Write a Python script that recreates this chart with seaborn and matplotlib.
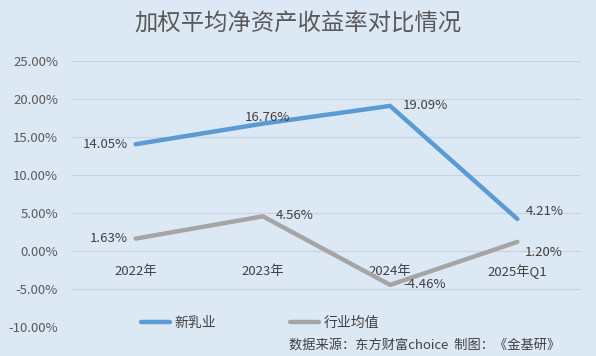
import numpy as np
import pandas as pd
import matplotlib.pyplot as plt
import seaborn as sns

# 数据
periods = ["2022年", "2023年", "2024年", "2025年Q1"]
xinruye = [14.05, 16.76, 19.09, 4.21]
industry_avg = [1.63, 4.56, -4.46, 1.20]
yticks = [-10, -5, 0, 5, 10, 15, 20, 25]

df = pd.DataFrame({
    "period": periods * 2,
    "roe": xinruye + industry_avg,
    "series": ["新乳业"] * 4 + ["行业均值"] * 4,
})

sns.set_theme(style="white")
plt.rcParams['font.family'] = ['Noto Sans CJK SC', 'DejaVu Sans']

bg = "#dde8f5"
fig = plt.figure(figsize=(5.96, 3.56), dpi=100, facecolor=bg)
ax = fig.add_axes([72 / 596, 1 - 327 / 356, 509 / 596, 266 / 356])
ax.set_facecolor(bg)

sns.lineplot(data=df, x="period", y="roe", hue="series", sort=False,
             palette={"新乳业": "#5b9bd5", "行业均值": "#a5a5a5"},
             linewidth=3.2, ax=ax, legend=False)

ax.set_ylim(-10, 25)
ax.set_xlim(-0.5, 3.5)
ax.set_yticks(yticks)
ax.set_yticklabels([f"{v:.2f}%" for v in yticks], fontsize=9.5, color="#595959")
ax.yaxis.grid(True, color="#c9d3e0", linewidth=0.8)
ax.set_axisbelow(True)
for s in ax.spines.values():
    s.set_visible(False)
ax.spines['bottom'].set_position(('data', 0))
ax.tick_params(axis='x', length=0, labelsize=9.5, labelcolor="#404040", pad=10)
ax.tick_params(axis='y', length=0, pad=10)
ax.set_xlabel("")
ax.set_ylabel("")

# 数据标签
offsets_a = [(-8, 0, 'right'), (5, 6, 'center'), (13, 0, 'left'), (8, 8, 'left')]
offsets_b = [(-8, 0, 'right'), (13, 1, 'left'), (13, 0, 'left'), (7, -11, 'left')]
for i, (v, (dx, dy, ha)) in enumerate(zip(xinruye, offsets_a)):
    ax.annotate(f"{v:.2f}%", (i, v), xytext=(dx, dy), textcoords='offset pixels',
                ha=ha, va='center', fontsize=9.5, color="#404040")
for i, (v, (dx, dy, ha)) in enumerate(zip(industry_avg, offsets_b)):
    ax.annotate(f"{v:.2f}%", (i, v), xytext=(dx, dy), textcoords='offset pixels',
                ha=ha, va='center', fontsize=9.5, color="#404040")

# 图例
h1, = ax.plot([], [], color="#5b9bd5", linewidth=3.2)
h2, = ax.plot([], [], color="#a5a5a5", linewidth=3.2)
fig.legend([h1, h2], ["新乳业", "行业均值"], loc='center', ncol=2,
           bbox_to_anchor=(260 / 596, 1 - 323 / 356), frameon=False,
           fontsize=10, handlelength=2.1, handletextpad=0.3, columnspacing=5.3,
           labelcolor="#404040")

fig.text(0.5, 1 - 24 / 356, "加权平均净资产收益率对比情况", ha='center', va='center',
         fontsize=16.8, color="#595959")
fig.text(560 / 596, 1 - 345 / 356, "数据来源：东方财富choice  制图：《金基研》",
         ha='right', va='center', fontsize=9.5, color="#404040")

fig.savefig("out.png", dpi=100, facecolor=bg)
